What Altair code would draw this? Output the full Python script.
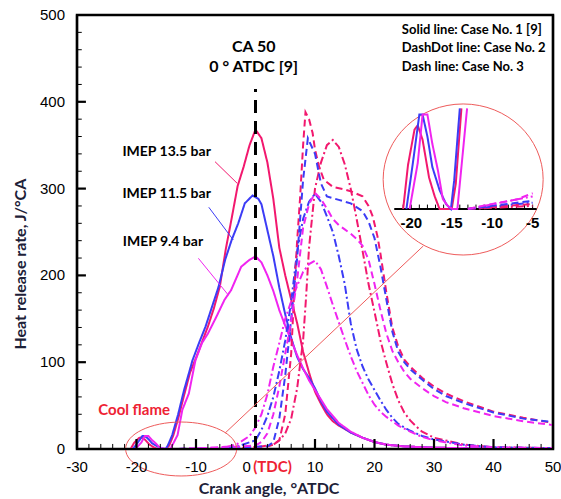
import altair as alt
import pandas as pd

# ---------------- data ----------------
levels = ["13.5", "11.5", "9.4"]
level_colors = ["#F2186E", "#3C3CF6", "#F024F0"]
kinds = ["Solid", "DashDot", "Dash"]

s135_x = [-21, -20.4, -19.6, -19.2, -18.6, -17.8, -17.1, -16.5, -15, -14.5, -13.8, -13, -12, -11, -10, -9, -8, -7, -6, -5, -4, -3, -2, -1, 0,
          1, 2, 3, 4, 5, 6, 7, 8, 9, 10, 11, 12, 13, 14, 16, 18, 20, 22, 25, 30, 40, 50]
s135_v = [0, 7, 12.6, 13.3, 11, 5, 2, 0, 0, 4, 16, 35, 62, 88, 105, 123, 141, 162, 187, 230, 266, 303, 325, 350, 368,
          358, 330, 288, 232, 200, 172, 145, 112, 88, 66, 52, 40, 32, 27, 19, 13, 8, 5, 3, 1.5, 0.5, 0]
s115_x = [-20.6, -19.8, -19, -18.6, -18, -17.4, -16.5, -15.7, -15.1, -14.7, -14, -13, -12, -11, -10.6, -9.5, -8.4, -7.3, -6.2, -5.1, -4, -2.9, -1.8, -0.5,
          0.5, 1, 2, 3, 4, 5, 6, 7, 8, 9, 10, 11, 12, 14, 16, 18, 20, 22, 25, 30, 40, 50]
s115_v = [0, 7.3, 15, 15, 11.5, 6.7, 3, 0.8, 0, 4.5, 16, 40, 68, 92, 102, 122, 141, 164, 187, 218, 241, 260, 283, 292,
          288, 282, 252, 222, 186, 155, 128, 106, 92, 82, 70, 55, 43, 28, 19, 13, 8, 5, 3, 1.5, 0.5, 0]
s94_x = [-20.2, -19.2, -18.6, -18, -17.4, -16.7, -16.1, -15.5, -14.9, -14.3, -13.7, -13.1, -12.3, -11.2, -10.1, -9, -8, -6.6, -5.2, -4.1, -2.4, -1, 0,
         1, 2, 3, 4, 5, 6, 7, 8, 9, 10, 11, 12, 14, 16, 18, 20, 22, 25, 30, 40, 50]
s94_v = [0, 7.3, 15, 15, 10.4, 6.1, 1.6, 0.5, 0, 0, 8, 16, 45, 64, 102, 122, 133, 152, 172, 183, 210, 218, 222,
         215, 200, 182, 160, 142, 125, 108, 93, 79, 68, 57, 46, 30, 20, 13, 8, 5, 3, 1.5, 0.5, 0]

dd135_x = [-13, -5, 0, 3, 4, 5, 6, 7, 8, 8.5, 9, 10, 11, 12, 13, 14, 15, 16, 17, 18, 19, 20, 21, 22, 23, 24, 25, 26, 27, 28, 30, 35, 40, 50]
dd135_v = [0, 0.5, 2, 5, 10, 18, 35, 70, 125, 175, 232, 300, 330, 350, 356, 348, 328, 300, 265, 228, 190, 158, 125, 99, 75, 56, 42, 33, 26, 20, 13, 5, 2, 1]
dd115_x = [-13, -5, -3, 0, 1, 2, 3, 4, 5, 6, 7, 8, 9, 10, 11, 12, 13, 14, 15, 16, 17, 18, 19, 20, 21, 22, 23, 24, 26, 28, 30, 35, 40, 50]
dd115_v = [0, 1, 3, 10, 22, 38, 60, 90, 125, 170, 228, 265, 285, 294, 285, 268, 250, 222, 190, 145, 115, 95, 80, 68, 56, 45, 36, 29, 21, 15, 11, 5, 2, 1]
dd94_x = [-13, -5, -3, -1, 0, 1, 2, 3, 4, 5, 6, 7, 8, 9, 10, 11, 12, 13, 14, 15, 16, 17, 18, 19, 20, 21, 22, 24, 26, 28, 30, 35, 40, 50]
dd94_v = [0, 2, 6, 15, 25, 40, 63, 95, 122, 150, 170, 188, 204, 213, 217, 207, 187, 166, 146, 126, 107, 90, 76, 62, 51, 43, 37, 27, 20, 14, 10, 4, 2, 1]

d135_x = [-13, -10, -5, -2, 0, 2, 3, 4, 5, 6, 6.5, 7, 7.5, 8, 8.4, 9, 9.6, 10, 10.7, 11.5, 13, 15, 16, 18, 19, 19.7, 20.5, 21, 22, 23, 24, 25, 26, 28, 30, 32, 35, 40, 45, 50]
d135_v = [0, 0.3, 0.8, 1.5, 2, 3, 5, 10, 40, 110, 180, 240, 290, 350, 388, 380, 364, 345, 325, 310, 302, 299, 297, 291, 280, 268, 245, 225, 180, 140, 118, 103, 95, 82, 72, 64, 55, 43, 36, 30]
d115_x = [-13, -10, -5, -2, 0, 2, 3, 4, 5, 6, 7, 8, 8.8, 10, 11, 12, 14, 16, 18, 19, 20, 21, 22, 23, 24, 25, 26, 28, 30, 32, 35, 40, 45, 50]
d115_v = [0, 0.5, 1.3, 2, 2.5, 3, 8, 35, 85, 150, 220, 310, 358, 340, 306, 291, 287, 283, 274, 262, 243, 210, 172, 135, 112, 100, 92, 80, 69, 61, 53, 42, 35, 31]
d94_x = [-13, -10, -7, -5, -2, 0, 1, 2, 3, 4, 5, 6, 7, 8, 9, 10, 11, 12, 13, 14, 15, 16, 17, 18, 19, 20, 21, 22, 23, 24, 25, 26, 28, 30, 32, 35, 40, 45, 50]
d94_v = [0, 0.8, 1.5, 2.5, 3, 4, 8, 18, 40, 72, 110, 148, 195, 255, 282, 295, 288, 277, 265, 258, 253, 248, 242, 234, 218, 190, 160, 133, 113, 100, 89, 81, 70, 61, 54, 47, 38, 32, 27.5]

series = [
    ("13.5", "Solid", s135_x, s135_v), ("11.5", "Solid", s115_x, s115_v), ("9.4", "Solid", s94_x, s94_v),
    ("13.5", "DashDot", dd135_x, dd135_v), ("11.5", "DashDot", dd115_x, dd115_v), ("9.4", "DashDot", dd94_x, dd94_v),
    ("13.5", "Dash", d135_x, d135_v), ("11.5", "Dash", d115_x, d115_v), ("9.4", "Dash", d94_x, d94_v),
]
rows = []
for lev, kind, xs, vs in series:
    for a, b in zip(xs, vs):
        rows.append({"x": float(a), "v": float(b), "level": lev, "kind": kind})
df = pd.DataFrame(rows)

x_ticks = [-30, -20, -10, 0, 10, 20, 30, 40, 50]
y_ticks = [0, 100, 200, 300, 400, 500]
inset_ticks = [-20, -15, -10, -5]

W, H = 476, 434
xs_main = alt.Scale(domain=[-30, 50], nice=False, zero=False)
ys_main = alt.Scale(domain=[0, 500], nice=False, zero=False)

# axes are drawn as marks (frame, inward ticks, labels, titles)
X = alt.X("x:Q", scale=xs_main, axis=None)
Y = alt.Y("v:Q", scale=ys_main, axis=None)
C = alt.Color("level:N", scale=alt.Scale(domain=levels, range=level_colors), legend=None)
D = alt.StrokeDash("kind:N", scale=alt.Scale(domain=kinds, range=[[1, 0], [8, 3, 2, 3], [7, 4]]), legend=None)

lines = alt.Chart(df).mark_line(strokeWidth=2).encode(x=X, y=Y, color=C, strokeDash=D)

tdc = alt.Chart(pd.DataFrame({"x": [0.0], "v": [0.0], "v2": [414.7]})).mark_rule(
    color="black", strokeWidth=3, strokeDash=[13, 8]).encode(x=X, y=Y, y2="v2:Q")

# frame sides and major inward ticks
fx, fx2, fv, fv2 = [-30.0, 50.0, -30.0, -30.0], [-30.0, 50.0, 50.0, 50.0], [0.0, 0.0, 0.0, 500.0], [500.0, 500.0, 0.0, 500.0]
for t in [100, 200, 300, 400]:
    fx.append(-30.0); fx2.append(-28.5); fv.append(float(t)); fv2.append(float(t))
for t in [-20, -10, 0, 10, 20, 30, 40]:
    fx.append(float(t)); fx2.append(float(t)); fv.append(0.0); fv2.append(11.5)
major = alt.Chart(pd.DataFrame({"x": fx, "x2": fx2, "v": fv, "v2": fv2})).mark_rule(
    color="#000000", strokeWidth=2.2).encode(x=X, y=Y, x2="x2:Q", y2="v2:Q")
mx, mx2, mv, mv2 = [], [], [], []
for t in range(20, 500, 20):
    if t % 100:
        mx.append(-30.0); mx2.append(-29.2); mv.append(float(t)); mv2.append(float(t))
for t in range(-28, 50, 2):
    if t % 10:
        mx.append(float(t)); mx2.append(float(t)); mv.append(0.0); mv2.append(5.8)
minor = alt.Chart(pd.DataFrame({"x": mx, "x2": mx2, "v": mv, "v2": mv2})).mark_rule(
    color="#000000", strokeWidth=1).encode(x=X, y=Y, x2="x2:Q", y2="v2:Q")

# tick labels
xl = [t for t in x_ticks if t != 0]
x_labels = alt.Chart(pd.DataFrame({"x": [float(t) for t in xl], "v": [-20.7] * len(xl),
                                   "t": [str(t) for t in xl]})).mark_text(
    font="Liberation Sans", fontSize=15, color="black", baseline="middle", align="center").encode(
    x=X, y=Y, text="t:N")
y_labels = alt.Chart(pd.DataFrame({"x": [-30.0] * len(y_ticks), "v": [float(t) for t in y_ticks],
                                   "t": [str(t) for t in y_ticks]})).mark_text(
    font="Liberation Sans", fontSize=15, color="black", baseline="middle", align="right", dx=-12).encode(
    x=X, y=Y, text="t:N")

def txt(d, **kw):
    base = dict(font="Lato", fontWeight="bold", baseline="middle")
    base.update(kw)
    return alt.Chart(pd.DataFrame(d)).mark_text(**base).encode(x=X, y=Y, text="t:N")

x_title = txt({"x": [2.27], "v": [-46.1], "t": ["Crank angle,  °ATDC"]}, align="center", fontSize=16,
              color="#1d2138")
y_title = txt({"x": [-39.4], "v": [213.0], "t": ["Heat release rate, J/°CA"]}, align="center", fontSize=16,
              color="#1d2138", angle=270)

ell_col = "#EE5B5B"
big_ell = alt.Chart(pd.DataFrame({"x": [34.9], "v": [310.5]})).mark_point(
    shape="M-1,0A1,0.944,0,1,0,1,0A1,0.944,0,1,0,-1,0Z", size=25600, filled=False,
    stroke=ell_col, strokeWidth=1, opacity=1).encode(x=X, y=Y)
small_ell = alt.Chart(pd.DataFrame({"x": [-12.5], "v": [0.0]})).mark_point(
    shape="M-1,0A1,0.486,0,1,0,1,0A1,0.486,0,1,0,-1,0Z", size=12321, filled=False,
    stroke=ell_col, strokeWidth=1, opacity=1).encode(x=X, y=Y)
connector = alt.Chart(pd.DataFrame({"x": [-5.1], "v": [18.4], "x2": [28.2], "v2": [233.9]})).mark_rule(
    color=ell_col, strokeWidth=1).encode(x=X, y=Y, x2="x2:Q", y2="v2:Q")

leaders = alt.Chart(pd.DataFrame({
    "x": [-6.8, -7.85, -9.6], "v": [331, 278.5, 219.7],
    "x2": [-3.06, -3.73, -4.57], "v2": [306, 240.8, 177.4], "level": levels})).mark_rule(
    strokeWidth=1).encode(x=X, y=Y, x2="x2:Q", y2="v2:Q", color=C)

imep = txt({"x": [-7.5, -7.5, -8.8], "v": [341.8, 293.8, 238.5],
            "t": ["IMEP 13.5 bar", "IMEP 11.5 bar", "IMEP 9.4 bar"]}, align="right", fontSize=14, color="black")
ca50 = txt({"x": [-0.3, -0.3], "v": [463.5, 440.4], "t": ["CA 50", "0 ° ATDC [9]"]},
           align="center", fontSize=16, color="black")
legend_txt = txt({"x": [24.6, 24.6, 24.6], "v": [482.7, 461.6, 440.4],
                  "t": ["Solid line: Case No. 1 [9]", "DashDot line: Case No. 2", "Dash line: Case No. 3"]},
                 align="left", fontSize=13, color="black")
cool = txt({"x": [-20.4], "v": [44.9], "t": ["Cool flame"]}, align="center", fontSize=15, color="#EE2233")
zero_lbl = txt({"x": [-1.48], "v": [-20.7], "t": ["0"]}, align="center", fontSize=15, color="black",
               font="Liberation Sans", fontWeight="normal")
tdc_lbl = txt({"x": [2.86], "v": [-20.7], "t": ["(TDC)"]}, align="center", fontSize=15, color="#EE2233")

# ---------------- inset (magnified cool-flame region) ----------------
# crank angle -22.1..-4.5 and HRR 0..16 magnified into the circle (main-axis box x 23.3..47.3, HRR 276.5..392.5)
IX0, IX1, MX0, MX1 = -22.1, -4.5, 23.32, 47.26
IV1, MV0, MV1 = 16.0, 276.5, 392.5
mxe = f"{MX0} + (datum.x - ({IX0})) * {(MX1 - MX0) / (IX1 - IX0)}"
mve = f"{MV0} + datum.v * {(MV1 - MV0) / IV1}"
XM = alt.X("mx:Q", scale=xs_main, axis=None)
YM = alt.Y("mv:Q", scale=ys_main, axis=None)

inset_lines = alt.Chart(df).transform_filter(
    "(datum.kind == 'Solid' && datum.x <= -13 && datum.v <= 16) || (datum.kind != 'Solid' && datum.x <= -4.9)"
).transform_calculate(mx=mxe, mv=mve).mark_line(strokeWidth=2).encode(x=XM, y=YM, color=C, strokeDash=D)
inset_axis = alt.Chart(pd.DataFrame({"x": [MX0], "x2": [MX1], "v": [MV0]})).mark_rule(
    color="black", strokeWidth=2).encode(x=X, x2="x2:Q", y=Y)
itk = [float(t) for t in range(-21, -4)]
inset_tk = alt.Chart(pd.DataFrame({"x": itk, "v": [0.0] * len(itk), "v2": [0.7] * len(itk)})).transform_calculate(
    mx=mxe, mv=mve, mv2=f"{MV0} + datum.v2 * {(MV1 - MV0) / IV1}").mark_rule(color="black", strokeWidth=1).encode(
    x=XM, y=YM, y2="mv2:Q")
inset_lbl = alt.Chart(pd.DataFrame({"x": [float(t) for t in inset_ticks], "v": [0.0] * 4,
                                    "t": [str(t) for t in inset_ticks]})).transform_calculate(
    mx=mxe, mv=mve).mark_text(font="Liberation Sans", fontWeight="bold", fontSize=15, color="black",
                              baseline="middle", dy=14).encode(x=XM, y=YM, text="t:N")

chart = alt.layer(lines, tdc, big_ell, small_ell, connector, leaders,
                  imep, ca50, legend_txt, cool, zero_lbl, tdc_lbl, x_labels, y_labels, x_title, y_title,
                  inset_axis, inset_tk, inset_lines, inset_lbl, major, minor).properties(
    width=W, height=H,
    padding={"left": 77, "top": 15, "right": 8, "bottom": 50},
    autosize=alt.AutoSizeParams(type="none"),
    background="white",
).configure_view(stroke="black", strokeWidth=2.5)

chart.save("out.html", embed_options={"renderer": "svg", "actions": False})
